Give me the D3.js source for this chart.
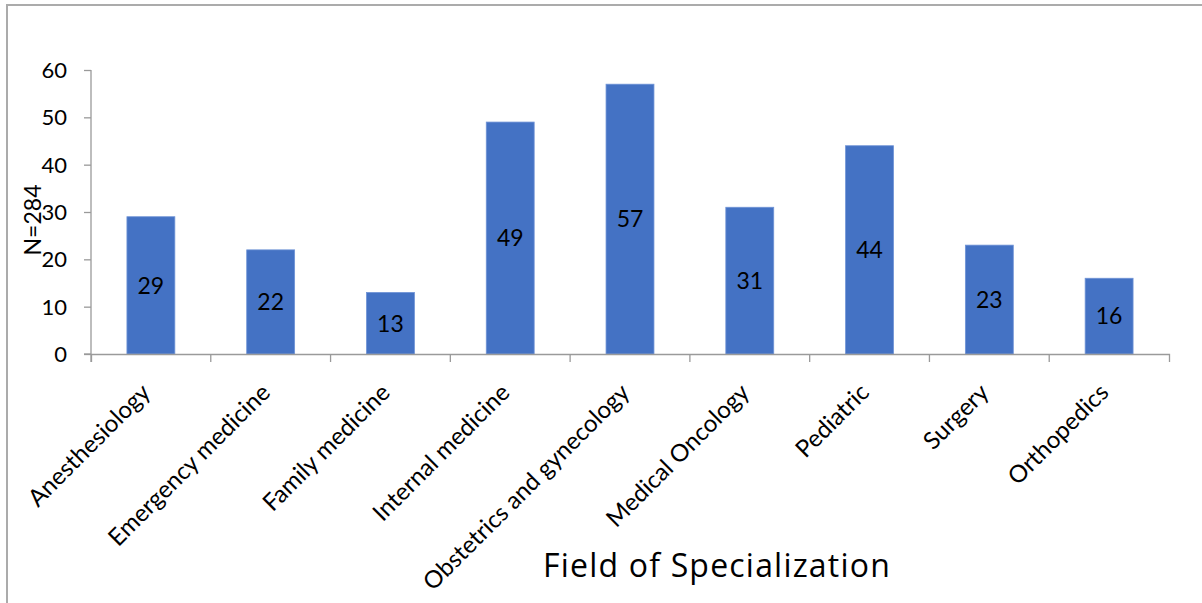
<!DOCTYPE html>
<html>
<head>
<meta charset="utf-8">
<script src="https://cdn.jsdelivr.net/npm/d3@7"></script>
<style>
  html, body { margin: 0; padding: 0; background: #fff; }
  svg { display: block; }
  text { fill: #000; }
</style>
</head>
<body>
<svg id="chart" width="1202" height="603"></svg>
<script>
// Respondents by field of specialization
const categories = [
  "Anesthesiology", "Emergency medicine", "Family medicine", "Internal medicine",
  "Obstetrics and gynecology", "Medical Oncology", "Pediatric", "Surgery", "Orthopedics"
];
const counts = [29, 22, 13, 49, 57, 31, 44, 23, 16];
const yTicks = [0, 10, 20, 30, 40, 50, 60];
const yTitle = "N=284";
const xTitle = "Field of Specialization";

(function () {
const svg = d3.select("#chart");
const W = 1202, H = 603;
const plotLeft = 91, plotRight = 1169, plotTop = 70, plotBottom = 354;
const bodyFont = "Lato, 'Open Sans', sans-serif";

// Outer frame (top and left edges only)
svg.append("path")
  .attr("d", `M7,${H} L7,5 L${W},5`)
  .attr("fill", "none")
  .attr("stroke", "#ababab")
  .attr("stroke-width", 2);

const x = d3.scaleBand().domain(categories).range([plotLeft, plotRight]).padding(0);
const y = d3.scaleLinear().domain([0, 60]).range([plotBottom, plotTop]);

const axisColor = "#9a9a9a";

// Y axis
const gy = svg.append("g").attr("transform", `translate(${plotLeft},0)`)
  .call(d3.axisLeft(y).tickValues(yTicks).tickSize(7).tickSizeOuter(0).tickPadding(17));
gy.select(".domain").remove();
gy.selectAll(".tick line").attr("stroke", axisColor).attr("stroke-width", 1.3);
gy.selectAll(".tick text")
  .style("font-family", bodyFont)
  .style("font-size", "22px").attr("fill", "#000").attr("dy", "0.34em");
gy.append("line").attr("x1", 0).attr("x2", 0).attr("y1", plotTop).attr("y2", plotBottom + 8)
  .attr("stroke", axisColor).attr("stroke-width", 1.3);

// Bars
const barW = x.bandwidth() * 0.4;
svg.append("g").selectAll("rect")
  .data(counts)
  .join("rect")
  .attr("x", (d, i) => x(categories[i]) + (x.bandwidth() - barW) / 2)
  .attr("y", d => y(d))
  .attr("width", barW)
  .attr("height", d => y(0) - y(d))
  .attr("fill", "#4472c4")
  .attr("stroke", "#6f93d6")
  .attr("stroke-width", 0.8);

// Value labels centred in each bar
svg.append("g").selectAll("text")
  .data(counts)
  .join("text")
  .attr("x", (d, i) => x(categories[i]) + x.bandwidth() / 2)
  .attr("y", d => (y(d) + y(0)) / 2)
  .attr("dy", "0.36em")
  .attr("text-anchor", "middle")
  .style("font-family", bodyFont)
  .style("font-size", "23px")
  .text(d => d);

// X axis line and category boundary ticks
const gx = svg.append("g").attr("transform", `translate(0,${plotBottom})`)
  .call(d3.axisBottom(x).tickSize(0).tickSizeOuter(8).tickFormat(""));
gx.select(".domain").attr("stroke", axisColor).attr("stroke-width", 1.3);
gx.append("line").attr("x1", plotLeft - 7).attr("x2", plotLeft).attr("y1", 0).attr("y2", 0)
  .attr("stroke", axisColor).attr("stroke-width", 1.3);
gx.selectAll(".boundary")
  .data(categories.slice(1))
  .join("line")
  .attr("class", "boundary")
  .attr("x1", d => x(d)).attr("x2", d => x(d))
  .attr("y1", 0).attr("y2", 8)
  .attr("stroke", axisColor).attr("stroke-width", 1.3);

// Rotated category labels
svg.append("g").selectAll("text")
  .data(categories)
  .join("text")
  .attr("transform", d => `translate(${x(d) + x.bandwidth() / 2 - 5},${plotBottom + 34}) rotate(-45)`)
  .attr("text-anchor", "end")
  .attr("dy", "0.35em")
  .style("font-family", bodyFont)
  .style("font-size", "24px")
  .text(d => d);

// Axis titles
svg.append("text")
  .attr("transform", `translate(41,220) rotate(-90)`)
  .attr("text-anchor", "middle")
  .style("font-family", bodyFont)
  .style("font-size", "23px")
  .text(yTitle);

svg.append("text")
  .attr("x", 717)
  .attr("y", 577)
  .attr("text-anchor", "middle")
  .style("font-family", "'Open Sans', sans-serif")
  .style("font-size", "32px")
  .style("letter-spacing", "1.2px")
  .text(xTitle);
})();
</script>
</body>
</html>
